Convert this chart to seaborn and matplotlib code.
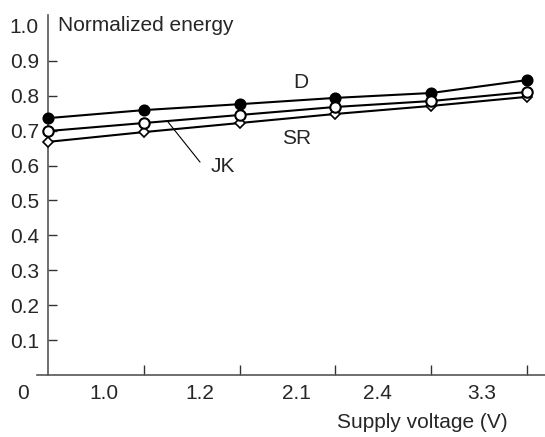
import matplotlib
matplotlib.use("Agg")
import matplotlib.pyplot as plt
import seaborn as sns
import pandas as pd
import numpy as np

# ---- data ----
x_labels = ["1.0", "1.2", "2.1", "2.4", "3.3"]
origin_label = "0"
d_vals = [0.736, 0.759, 0.776, 0.794, 0.808, 0.845]
jk_vals = [0.699, 0.722, 0.745, 0.768, 0.785, 0.811]
sr_vals = [0.668, 0.696, 0.722, 0.748, 0.771, 0.797]
y_ticks = [0.1, 0.2, 0.3, 0.4, 0.5, 0.6, 0.7, 0.8, 0.9, 1.0]

sns.set_style("ticks")
plt.rcParams["font.family"] = ["Liberation Sans", "DejaVu Sans"]

idx = np.arange(len(d_vals))
df = pd.DataFrame({"x": np.concatenate([idx, idx, idx]),
                   "y": d_vals + jk_vals + sr_vals,
                   "s": ["D"] * 6 + ["JK"] * 6 + ["SR"] * 6})

fig = plt.figure(figsize=(5.45, 4.37), dpi=100)
ax = fig.add_axes([37 / 545, 1 - 375 / 437, 1 - 37 / 545, 360 / 437])

sns.lineplot(data=df[df.s == "D"], x="x", y="y", ax=ax, color="black", lw=1.5,
             marker="o", markersize=7.5, markerfacecolor="black",
             markeredgecolor="black", markeredgewidth=1.2, zorder=3)
sns.lineplot(data=df[df.s == "SR"], x="x", y="y", ax=ax, color="black", lw=1.5,
             marker="D", markersize=5.5, markerfacecolor="white",
             markeredgecolor="black", markeredgewidth=1.2, zorder=3)
sns.lineplot(data=df[df.s == "JK"], x="x", y="y", ax=ax, color="black", lw=1.5,
             marker="o", markersize=7.5, markerfacecolor="white",
             markeredgecolor="black", markeredgewidth=1.5, zorder=4)

ax.set_xlim(-11 / 95.8, (545 - 48) / 95.8)
ax.set_ylim(0, 360 / 349)
ax.spines["left"].set_position(("data", 0))
ax.spines["top"].set_visible(False)
ax.spines["right"].set_visible(False)
for s in ("left", "bottom"):
    ax.spines[s].set_color("#555555")
    ax.spines[s].set_linewidth(1.2)

ax.set_yticks(y_ticks)
ax.set_yticklabels([f"{v:.1f}" for v in y_ticks], fontsize=15)
ax.tick_params(axis="y", direction="in", length=6.5, width=1, color="#333333", pad=6.5)
ax.yaxis.get_major_ticks()[-1].tick1line.set_visible(False)

ax.set_xticks(idx[1:])
ax.set_xticklabels([])
ax.tick_params(axis="x", direction="in", length=7, width=1, color="#333333")
ax.set_xlabel("")
ax.set_ylabel("")

label_pos = [0.584, 1.587, 2.589, 3.434, 4.530]
for p, lab in zip(label_pos, x_labels):
    ax.text(p, -0.052, lab, ha="center", va="center", fontsize=15, clip_on=False)
ax.text(-0.261, -0.052, origin_label, ha="center", va="center", fontsize=15, clip_on=False)

ax.text(0.104, 1.0, "Normalized energy", ha="left", va="center", fontsize=15)
ax.text(3.904, -0.135, "Supply voltage (V)", ha="center", va="center", fontsize=15, clip_on=False)

ax.text(2.641, 0.837, "D", ha="center", va="center", fontsize=15)
ax.text(2.60, 0.679, "SR", ha="center", va="center", fontsize=15)
ax.text(1.827, 0.596, "JK", ha="center", va="center", fontsize=15)
ax.plot([1.587, 1.253], [0.610, 0.725], color="black", lw=0.8)

fig.savefig("out.png", dpi=100)
